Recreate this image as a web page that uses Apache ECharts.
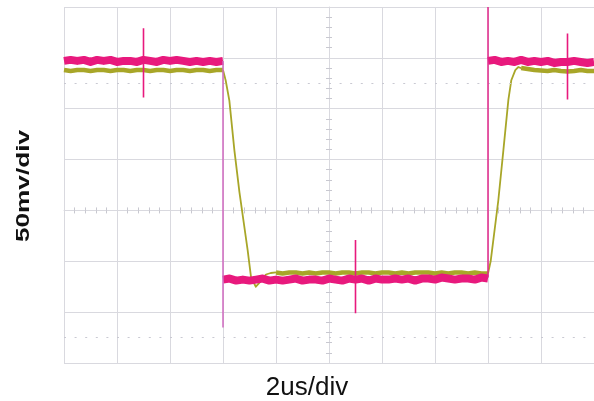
<!DOCTYPE html>
<html>
<head>
<meta charset="utf-8">
<script src="https://cdn.jsdelivr.net/npm/echarts@6/dist/echarts.min.js"></script>
<style>
html,body{margin:0;padding:0;background:#fff;}
#chart{width:594px;height:401px;}
</style>
</head>
<body>
<div id="chart"></div>
<script>
// ---- axis / labels ----
const xLabel = '2us/div';
const yLabel = '50mv/div';
const timeRange = [-10, 10];      // µs, 2 µs per division
const voltRange = [-150, 200];    // mV, 50 mV per division
const dottedLevels = [125, -125]; // mV (cursor lines)

// ---- sampled traces (mV), sample step 0.25 µs ----
const step = 0.25;
// magenta channel
const magHighLeftStart = -10;
const magHighLeft = [147,148,147,148,146,148,147,148,146,147,147,146,148,147,146,148,147,148,147,146,147,146,147,146,147];
const magLowStart = -4;
const magLow = [-68,-67,-69,-68,-69,-68,-67,-69,-68,-69,-68,-67,-69,-68,-68,-69,-67,-68,-69,-67,-68,-67,-69,-67,-68,-68,-67,-68,-67,-69,-67,-67,-68,-66,-67,-68,-67,-67,-68,-66,-67];
const magHighRightStart = 6;
const magHighRight = [147,148,146,147,146,148,146,147,146,147,145,146,146,147,146,145,146];
// magenta edges (t, v) and spikes [t, top, bottom]
const magEdges = [
  [[-4,147],[-4,-115],[-4,-68]],
  [[6,-66],[6,200],[6,146]]
];
const magSpikes = [[-7,179,111],[1,-29,-101],[9,174,109]];

// yellow channel
const yelHighLeftStart = -10;
const yelHighLeft = [138,137,138,138,137,138,138,137,138,138,137,138,138,137,138,138,137,138,138,137,138,138,137,138,138];
const yelFall = [[-4.0,138],[-3.9,128],[-3.76,108],[-3.57,59],[-3.38,18],[-3.07,-39],[-2.94,-66],[-2.76,-75],[-2.52,-68],[-2.38,-63],[-2.2,-61.5],[-2.0,-61]];
const yelLowStart = -2;
const yelLow = [-61,-62,-61,-61,-62,-61,-62,-61,-61,-62,-61,-61,-62,-61,-61,-62,-61,-61,-62,-61,-62,-61,-61,-61,-62,-61,-62,-61,-61,-62,-61,-62,-62];
const yelRise = [[6.0,-62],[6.1,-50],[6.39,10],[6.58,59],[6.77,109],[6.88,128],[7.03,138],[7.14,141],[7.25,140]];
const yelHighRightStart = 7.25;
const yelHighRight = [140,139,138,137.5,137,138,137,136.5,137,138,137,137];

function sampled(start, vals){ return vals.map((v,i)=>[start + i*step, v]); }

const magColor = '#e8197d';
const yelColor = '#a8a628';
const gridColor = '#d9d9df';

const baseLine = {type:'line', showSymbol:false, symbol:'none', animation:false, silent:true, xAxisIndex:0, yAxisIndex:0};

const series = [];
// dotted cursor lines holder
series.push(Object.assign({}, baseLine, {
  data: [], z:2,
  markLine:{symbol:'none', silent:true, animation:false, label:{show:false},
    lineStyle:{type:[2,8.6], color:'#c9c9d2', width:1},
    data: dottedLevels.map(v=>({yAxis:v}))}
}));
// yellow flats (band) and transitions (thin)
[sampled(yelHighLeftStart, yelHighLeft), sampled(yelLowStart, yelLow), sampled(yelHighRightStart, yelHighRight)].forEach(d=>{
  series.push(Object.assign({}, baseLine, {data:d, z:3, lineStyle:{color:yelColor, width:4.5, join:'round'}}));
});
[yelFall, yelRise].forEach(d=>{
  series.push(Object.assign({}, baseLine, {data:d, z:3, lineStyle:{color:yelColor, width:1.8, join:'round'}}));
});
// magenta flats
[sampled(magHighLeftStart, magHighLeft), sampled(magLowStart, magLow), sampled(magHighRightStart, magHighRight)].forEach(d=>{
  series.push(Object.assign({}, baseLine, {data:d, z:4, lineStyle:{color:magColor, width:8, join:'round'}}));
});
magEdges.forEach((d,i)=>{
  series.push(Object.assign({}, baseLine, {data:d, z:5, lineStyle:{color: i===0 ? '#cf68bf' : '#e0268a', width:1.5}}));
});
magSpikes.forEach(s=>{
  series.push(Object.assign({}, baseLine, {data:[[s[0],s[1]],[s[0],s[2]]], z:5, lineStyle:{color:magColor, width:1.6}}));
});

const xCommon = {type:'value', min:timeRange[0], max:timeRange[1], interval:2};
const yCommon = {type:'value', min:voltRange[0], max:voltRange[1], interval:50};
const minorTk = {show:true, splitNumber:5, length:3, lineStyle:{color:'#c8c8d0', width:1}};

const option = {
  backgroundColor:'#ffffff',
  animation:false,
  grid:{left:64, top:7, width:532, height:356, containLabel:false},
  xAxis:[
    Object.assign({}, xCommon, {position:'bottom',
      axisLine:{show:true, onZero:true, lineStyle:{color:gridColor, width:1}},
      axisTick:{show:false}, axisLabel:{show:false}, minorTick:minorTk,
      splitLine:{show:true, lineStyle:{color:gridColor, width:1}}}),
    Object.assign({}, xCommon, {position:'top',
      axisLine:{show:false, onZero:true},
      axisTick:{show:false}, axisLabel:{show:false}, minorTick:minorTk,
      splitLine:{show:false}})
  ],
  yAxis:[
    Object.assign({}, yCommon, {position:'left',
      axisLine:{show:true, onZero:true, lineStyle:{color:gridColor, width:1}},
      axisTick:{show:false}, axisLabel:{show:false}, minorTick:minorTk,
      splitLine:{show:true, lineStyle:{color:gridColor, width:1}}}),
    Object.assign({}, yCommon, {position:'right',
      axisLine:{show:false, onZero:true},
      axisTick:{show:false}, axisLabel:{show:false}, minorTick:minorTk,
      splitLine:{show:false}})
  ],
  graphic:[
    {type:'text', x:24, y:186, rotation:Math.PI/2, scaleX:1.38, scaleY:1, silent:true,
      style:{text:yLabel, font:'bold 19px "Liberation Sans", Arial, sans-serif', fill:'#111',
        align:'center', verticalAlign:'middle', textAlign:'center', textVerticalAlign:'middle'}},
    {type:'text', x:307, y:388, silent:true,
      style:{text:xLabel, font:'26px "Liberation Sans", Arial, sans-serif', fill:'#111',
        align:'center', verticalAlign:'middle', textAlign:'center', textVerticalAlign:'middle'}}
  ],
  series: series
};

const chart = echarts.init(document.getElementById('chart'), null, {renderer:'canvas'});
chart.setOption(option);
</script>
</body>
</html>
